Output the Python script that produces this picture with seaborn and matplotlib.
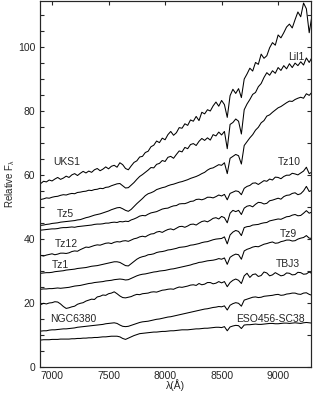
import numpy as np
import pandas as pd
import matplotlib
matplotlib.use("Agg")
import matplotlib.pyplot as plt
import seaborn as sns

# wavelength grid (Angstrom), fluxes every 25 A
wave = list(range(6900, 9301, 25))

uks1 = [57.3, 58.0, 57.8, 58.4, 58.1, 58.7, 59.2, 58.6,
        59.0, 59.6, 59.2, 60.0, 60.4, 59.8, 60.5, 61.1,
        60.6, 61.2, 60.8, 61.6, 62.0, 61.3, 61.8, 62.5,
        61.9, 62.7, 63.0, 62.4, 63.8, 63.2, 62.0, 61.6,
        62.8, 63.9, 64.4, 65.6, 65.8, 67.0, 67.4, 68.8,
        69.3, 70.6, 70.1, 71.5, 71.0, 72.6, 73.6, 72.4,
        73.2, 74.8, 74.6, 76.0, 75.5, 77.2, 76.8, 78.3,
        77.0, 79.6, 79.1, 80.4, 80.0, 81.6, 82.8, 81.5,
        83.3, 82.0, 78.0, 84.8, 86.8, 85.5, 87.0, 84.2,
        90.0, 91.6, 93.4, 92.5, 95.2, 94.6, 97.8, 96.5,
        97.3, 99.8, 101.4, 100.6, 103.8, 102.9, 104.5, 106.3,
        107.2, 106.0, 108.6, 111.0, 109.5, 113.8, 112.0, 104.5,
        110.0]
lil1 = [52.3, 52.5, 52.8, 52.7, 53.0, 53.2, 53.3, 53.6,
        53.8, 53.7, 54.0, 54.2, 54.1, 54.5, 54.6, 54.8,
        54.9, 55.2, 55.1, 55.4, 55.5, 55.8, 55.7, 56.1,
        56.2, 56.6, 56.9, 57.2, 57.3, 56.6, 55.9, 56.0,
        56.8, 57.6, 58.6, 59.5, 60.1, 60.8, 61.5, 62.3,
        62.2, 63.3, 63.6, 64.5, 64.2, 65.5, 65.8, 65.2,
        66.4, 67.5, 67.2, 68.6, 68.2, 69.5, 69.8, 69.2,
        70.5, 71.4, 70.8, 71.6, 70.9, 72.6, 72.2, 73.4,
        72.5, 73.6, 68.2, 75.8, 76.4, 77.5, 76.8, 72.8,
        80.4, 82.2, 83.6, 85.2, 85.8, 87.6, 88.6, 90.5,
        92.0, 91.2, 92.6, 91.8, 93.6, 92.7, 94.2, 93.2,
        94.8, 93.6, 95.0, 94.2, 95.4, 94.4, 96.6, 95.2,
        96.8]
tz5 = [44.2, 44.3, 44.5, 44.6, 44.8, 44.9, 45.0, 45.2,
       45.3, 45.4, 45.5, 45.6, 45.7, 45.9, 46.0, 46.3,
       46.6, 46.8, 47.1, 47.4, 47.6, 47.8, 48.1, 48.4,
       48.7, 49.1, 49.4, 49.7, 49.8, 49.4, 48.9, 48.6,
       49.2, 50.1, 51.0, 51.8, 52.6, 53.5, 54.1, 54.4,
       54.8, 55.4, 55.7, 56.0, 56.2, 56.6, 56.9, 57.1,
       57.4, 57.7, 57.9, 58.2, 58.5, 58.9, 59.2, 59.5,
       59.9, 60.4, 60.8, 61.5, 62.0, 62.2, 62.7, 63.2,
       63.0, 63.8, 60.4, 65.2, 65.8, 66.4, 66.0, 63.4,
       69.2, 70.4, 71.6, 72.6, 74.0, 74.9, 76.3, 77.0,
       78.4, 78.8, 79.6, 80.3, 81.0, 81.4, 82.0, 82.6,
       83.1, 83.0, 83.6, 84.0, 84.3, 84.0, 85.4, 84.9,
       85.9]
tz10 = [42.7, 42.8, 42.9, 43.0, 43.1, 43.1, 43.2, 43.4,
        43.5, 43.5, 43.6, 43.7, 43.6, 43.8, 43.9, 44.0,
        44.1, 44.2, 44.3, 44.5, 44.6, 44.6, 44.7, 44.9,
        44.9, 45.1, 45.2, 45.1, 45.4, 45.3, 45.5, 45.4,
        45.9, 46.2, 46.6, 47.1, 47.3, 47.2, 47.7, 48.1,
        48.3, 48.5, 48.9, 49.3, 49.5, 49.6, 50.0, 50.3,
        50.4, 50.9, 51.0, 51.0, 51.3, 51.7, 51.8, 52.3,
        52.4, 52.2, 52.5, 53.0, 53.0, 52.8, 53.2, 53.7,
        53.4, 53.9, 52.2, 54.2, 54.6, 55.0, 54.8, 53.8,
        55.8, 56.4, 56.7, 57.4, 57.5, 57.0, 57.6, 58.2,
        58.0, 58.7, 58.4, 59.3, 59.2, 58.8, 59.5, 59.9,
        59.9, 60.5, 60.3, 60.0, 60.6, 61.2, 62.4, 60.4,
        60.9]
tz12 = [34.8, 34.6, 34.9, 35.1, 35.3, 35.0, 35.2, 35.5,
        35.5, 35.4, 35.6, 36.0, 36.2, 36.1, 36.6, 37.0,
        37.4, 37.3, 37.6, 37.9, 38.1, 38.0, 38.3, 38.6,
        38.7, 38.5, 38.9, 39.1, 39.0, 39.3, 39.4, 39.2,
        39.6, 40.0, 40.2, 40.6, 40.8, 40.6, 41.1, 41.5,
        41.6, 42.1, 42.3, 42.0, 42.5, 42.9, 43.1, 42.8,
        43.3, 43.8, 43.9, 43.6, 44.0, 44.5, 44.6, 44.3,
        44.9, 45.4, 45.6, 45.3, 45.8, 46.4, 46.6, 46.2,
        47.0, 46.6, 45.0, 48.0, 48.9, 48.5, 48.9, 47.6,
        49.6, 50.2, 50.4, 50.0, 50.8, 51.4, 51.3, 50.9,
        51.1, 51.9, 52.1, 52.4, 52.7, 52.4, 53.2, 53.6,
        53.7, 54.2, 54.4, 53.8, 54.1, 55.0, 56.4, 54.8,
        55.2]
tz1 = [29.2, 29.3, 29.4, 29.4, 29.5, 29.7, 29.8, 29.9,
       30.0, 30.2, 30.3, 30.4, 30.5, 30.7, 30.8, 30.9,
       31.0, 31.2, 31.4, 31.5, 31.6, 31.8, 32.0, 32.2,
       32.4, 32.6, 32.8, 32.8, 32.6, 32.1, 31.6, 31.5,
       32.2, 32.9, 33.6, 34.1, 34.4, 34.6, 35.0, 35.1,
       35.3, 35.7, 35.9, 36.0, 36.2, 36.5, 36.6, 36.8,
       37.0, 37.3, 37.4, 37.5, 37.7, 38.0, 38.1, 38.3,
       38.5, 38.8, 39.0, 39.1, 39.4, 39.7, 39.9, 40.0,
       40.1, 40.6, 38.4, 41.2, 42.1, 42.6, 42.3, 41.0,
       43.5, 43.8, 43.9, 44.3, 44.4, 44.5, 44.8, 45.0,
       45.1, 45.6, 45.8, 46.0, 46.2, 46.1, 46.5, 46.9,
       47.0, 47.4, 47.6, 47.2, 47.3, 48.0, 48.8, 48.0,
       48.4]
tz9 = [24.2, 24.3, 24.3, 24.4, 24.4, 24.5, 24.6, 24.5,
       24.6, 24.7, 24.8, 25.0, 25.2, 25.3, 25.4, 25.6,
       25.8, 26.0, 26.1, 26.3, 26.4, 26.5, 26.6, 26.8,
       26.9, 27.0, 27.2, 27.3, 27.4, 27.3, 27.1, 27.2,
       27.6, 28.0, 28.4, 28.7, 28.9, 29.0, 29.2, 29.4,
       29.6, 29.7, 29.9, 30.0, 30.1, 30.3, 30.5, 30.6,
       30.8, 31.0, 31.2, 31.4, 31.6, 31.8, 32.1, 32.3,
       32.6, 32.7, 32.9, 33.1, 33.2, 33.3, 33.5, 33.8,
       33.6, 34.0, 32.0, 34.2, 34.8, 35.2, 35.0, 33.6,
       36.2, 36.7, 37.0, 37.4, 37.6, 37.5, 37.9, 38.3,
       38.5, 38.8, 39.0, 38.6, 38.7, 39.1, 39.3, 39.6,
       39.6, 39.3, 39.4, 39.9, 40.2, 40.4, 41.0, 40.2,
       40.1]
tbj3 = [19.4, 19.8, 19.6, 19.9, 20.0, 20.3, 20.2, 19.6,
        18.8, 18.2, 18.4, 18.7, 18.9, 19.5, 19.8, 20.0,
        20.5, 20.8, 21.1, 21.0, 21.8, 22.0, 22.4, 22.3,
        22.8, 23.0, 23.4, 22.8, 22.1, 21.6, 21.5, 21.7,
        21.9, 22.3, 22.6, 22.5, 22.8, 22.9, 23.0, 23.3,
        23.4, 23.3, 23.6, 23.9, 24.0, 24.2, 24.3, 24.2,
        24.6, 24.9, 24.8, 25.0, 25.2, 25.5, 25.6, 25.4,
        26.0, 25.6, 25.8, 26.3, 26.3, 25.9, 26.1, 26.6,
        26.2, 26.6, 25.0, 26.3, 27.0, 27.4, 27.0, 26.0,
        28.4, 29.2, 27.9, 28.8, 29.0, 28.2, 28.5, 29.6,
        29.3, 28.4, 28.7, 29.4, 28.9, 28.4, 28.6, 29.3,
        29.2, 28.7, 28.8, 29.5, 29.4, 28.9, 29.0, 29.6,
        29.1]
ngc6380 = [11.1, 11.2, 11.2, 11.4, 11.5, 11.5, 11.6, 11.7,
           11.8, 11.8, 11.9, 12.0, 12.1, 12.3, 12.4, 12.5,
           12.6, 12.7, 12.8, 12.9, 13.0, 13.1, 13.2, 13.4,
           13.5, 13.6, 13.7, 13.5, 13.0, 12.6, 12.5, 12.6,
           12.9, 13.2, 13.5, 13.8, 14.0, 14.1, 14.2, 14.4,
           14.6, 14.8, 14.9, 15.1, 15.3, 15.5, 15.6, 15.8,
           16.0, 16.2, 16.4, 16.6, 16.8, 17.0, 17.2, 17.4,
           17.6, 17.8, 18.0, 18.1, 18.3, 18.5, 18.6, 18.8,
           18.7, 19.0, 17.7, 19.2, 19.7, 20.0, 19.8, 18.9,
           20.8, 21.1, 21.4, 21.7, 21.8, 21.6, 21.7, 22.0,
           22.1, 22.2, 22.3, 22.5, 22.6, 22.3, 22.4, 22.7,
           22.8, 23.0, 23.0, 22.7, 22.6, 23.0, 23.1, 22.6,
           22.3]
eso456 = [8.3, 8.4, 8.4, 8.4, 8.5, 8.5, 8.5, 8.6,
          8.6, 8.6, 8.6, 8.7, 8.7, 8.8, 8.8, 8.9,
          8.9, 9.0, 9.0, 9.1, 9.1, 9.2, 9.3, 9.3,
          9.4, 9.5, 9.5, 9.5, 9.3, 8.8, 8.5, 8.9,
          9.3, 9.7, 10.0, 10.3, 10.4, 10.5, 10.6, 10.7,
          10.8, 10.8, 10.9, 11.0, 11.0, 11.1, 11.2, 11.2,
          11.3, 11.4, 11.5, 11.5, 11.5, 11.6, 11.7, 11.8,
          11.8, 11.9, 12.0, 12.0, 12.1, 12.2, 12.3, 12.3,
          12.2, 12.5, 11.2, 12.4, 12.7, 12.9, 12.8, 11.9,
          13.0, 13.1, 13.1, 13.2, 13.3, 13.2, 13.2, 13.3,
          13.4, 13.5, 13.5, 13.4, 13.4, 13.5, 13.6, 13.6,
          13.5, 13.6, 13.7, 13.6, 13.5, 13.7, 13.8, 13.7,
          13.6]

names = ["UKS1", "Lil1", "Tz5", "Tz10", "Tz12", "Tz1", "Tz9", "TBJ3",
         "NGC6380", "ESO456-SC38"]
spectra = [uks1, lil1, tz5, tz10, tz12, tz1, tz9, tbj3, ngc6380, eso456]

rows = []
for name, flux in zip(names, spectra):
    for w, f in zip(wave, flux):
        rows.append((name, w, f))
df = pd.DataFrame(rows, columns=["star", "wave", "flux"])

sns.set_style("ticks")
plt.rcParams["font.family"] = ["Liberation Sans", "DejaVu Sans"]
plt.rcParams["mathtext.fontset"] = "custom"
plt.rcParams["mathtext.rm"] = "Liberation Sans"
plt.rcParams["mathtext.it"] = "Liberation Sans"

fig = plt.figure(figsize=(3.13, 3.95), dpi=100)
ax = fig.add_axes([0.128, 0.072, 0.866, 0.926])

sns.lineplot(data=df, x="wave", y="flux", units="star", estimator=None,
             color="black", linewidth=0.75, ax=ax, legend=False)

# star names next to their spectra
label_pos = {"UKS1": (7010, 64), "Lil1": (9090, 97), "Tz5": (7044, 47.8),
             "Tz10": (9000, 64), "Tz12": (7027, 38.4), "Tz1": (7000, 31.7),
             "Tz9": (9018, 41.4), "TBJ3": (8982, 32.2),
             "NGC6380": (6982, 15.0), "ESO456-SC38": (8628, 15.0)}
for name, (x, y) in label_pos.items():
    ax.text(x, y, name, fontsize=7.5, va="center", ha="left")

ax.set_xlim(6894, 9292)
ax.set_ylim(0, 114.5)
ax.set_xticks([7000, 7500, 8000, 8500, 9000])
ax.set_yticks([0, 20, 40, 60, 80, 100])
ax.set_yticks(np.arange(0, 115, 5), minor=True)
ax.tick_params(axis="both", labelsize=7.5, direction="in", length=3, width=0.8)
ax.tick_params(axis="y", which="minor", direction="in", length=3, width=0.8)
ax.tick_params(axis="x", bottom=False, top=True)
ax.set_xlabel("λ(Å)", fontsize=7.5)
ax.set_ylabel("Relative F$_\\lambda$", fontsize=7)
ax.xaxis.set_label_coords(0.5, -0.035)
ax.yaxis.set_label_coords(-0.085, 0.5)

# right axis ticks every 10
ax2 = ax.twinx()
ax2.set_ylim(ax.get_ylim())
ax2.set_yticks(np.arange(0, 115, 10))
ax2.tick_params(axis="y", direction="in", length=3, width=0.8, labelright=False)

for a in (ax, ax2):
    for s in a.spines.values():
        s.set_visible(True)
        s.set_linewidth(0.8)

fig.savefig("out.png", dpi=100)
